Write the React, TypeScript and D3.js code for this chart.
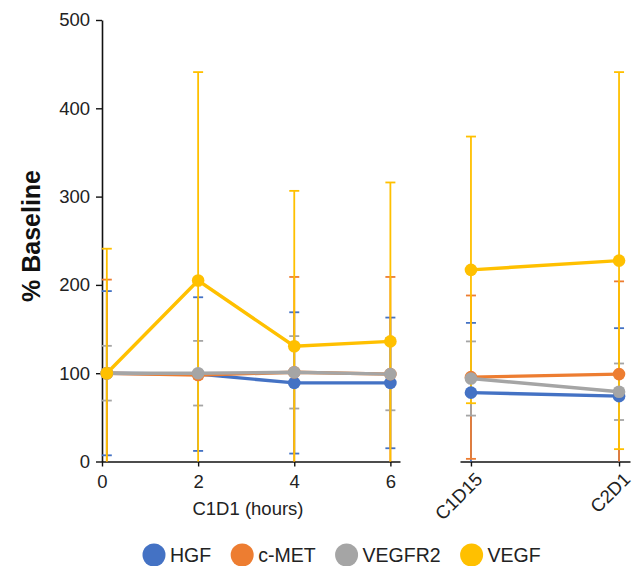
import React, { useEffect, useRef } from "react";
import * as d3 from "d3";

// left panel: hours after C1D1 dose (first point sits just right of 0)
const hours = [0.1, 2, 4, 6];
const hourTicks = [0, 2, 4, 6];
// right panel: later visits
const visits = ["C1D15", "C2D1"];
const yTicks = [0, 100, 200, 300, 400, 500];

const seriesNames = ["HGF", "c-MET", "VEGFR2", "VEGF"];
const colors = ["#4472C4", "#ED7D31", "#A5A5A5", "#FFC000"];

// means (% baseline): 4 hourly points then 2 visits
const hgfMean = [100, 99, 89, 89, 78, 74];
const hgfSd = [93, 87, 80, 74, 79, 77];
const cmetMean = [100, 98, 101, 99, 95.5, 99];
const cmetSd = [106, 4, 108, 110, 92.5, 105];
const vegfr2Mean = [100, 100, 101, 99, 94, 79];
const vegfr2Sd = [31, 36.6, 41, 41, 42, 32];
const vegfMean = [100, 205, 130.5, 136, 217, 227.5];
const vegfSd = [141, 236, 176, 180, 151, 213.5];

const means = [hgfMean, cmetMean, vegfr2Mean, vegfMean];
const sds = [hgfSd, cmetSd, vegfr2Sd, vegfSd];

const W = 638;
const H = 566;

export default function App() {
  const ref = useRef<SVGSVGElement>(null);

  useEffect(() => {
    const svg = d3.select(ref.current);
    svg.selectAll("*").remove();
    const font = "'Liberation Sans', Arial, sans-serif";

    const y = d3.scaleLinear().domain([0, 500]).range([461.5, 20]);
    const xl = d3.scaleLinear().domain([0, 6.2]).range([102, 400]);
    const xr = d3.scalePoint<string>().domain(visits).range([460, 630]).padding(0.074);

    const xAt = (i: number) => (i < 4 ? xl(hours[i]) : (xr(visits[i - 4]) as number));

    // y axis
    const ya = svg
      .append("g")
      .attr("transform", "translate(102,0)")
      .call(d3.axisLeft(y).tickValues(yTicks).tickSize(6).tickSizeOuter(0).tickPadding(6).tickFormat(d3.format("d")));
    ya.selectAll("text").attr("font-size", 18.5).attr("font-family", font).attr("fill", "#222");

    // x axes
    const xa = svg
      .append("g")
      .attr("transform", `translate(0,${y(0)})`)
      .call(
        d3.axisBottom(xl).tickValues(hourTicks).tickSize(5).tickSizeOuter(0).tickPadding(8).tickFormat(d3.format("d"))
      );
    xa.selectAll("text").attr("font-size", 18.5).attr("font-family", font).attr("fill", "#222");

    const xb = svg
      .append("g")
      .attr("transform", `translate(0,${y(0)})`)
      .call(d3.axisBottom(xr).tickSize(5).tickSizeOuter(0));
    xb.selectAll("text")
      .attr("font-size", 18.5)
      .attr("font-family", font)
      .attr("fill", "#222")
      .attr("text-anchor", "end")
      .attr("dy", 0)
      .attr("y", 0)
      .attr("transform", "translate(12,19) rotate(-45)");

    svg.selectAll(".domain").attr("stroke", "#111").attr("stroke-width", 1.6);
    svg.selectAll(".tick line").attr("stroke", "#111").attr("stroke-width", 1.4);

    // error bars
    means.forEach((m, s) => {
      const g = svg.append("g").attr("stroke", colors[s]).attr("stroke-width", 1.8);
      m.forEach((v, i) => {
        const top = y(Math.min(500, v + sds[s][i]));
        const bot = y(Math.max(0, v - sds[s][i]));
        const cx = xAt(i);
        g.append("line").attr("x1", cx).attr("x2", cx).attr("y1", top).attr("y2", bot);
        g.append("line").attr("x1", cx - 5).attr("x2", cx + 5).attr("y1", top).attr("y2", top);
        if (v - sds[s][i] > 0)
          g.append("line").attr("x1", cx - 5).attr("x2", cx + 5).attr("y1", bot).attr("y2", bot);
      });
    });

    // lines and markers (the two panels are not joined)
    means.forEach((m, s) => {
      const seg = (start: number) =>
        d3
          .line<number>()
          .x((_, i) => xAt(i + start))
          .y((d) => y(d));
      svg.append("path").attr("d", seg(0)(m.slice(0, 4))).attr("fill", "none").attr("stroke", colors[s]).attr("stroke-width", 3.4);
      svg.append("path").attr("d", seg(4)(m.slice(4))).attr("fill", "none").attr("stroke", colors[s]).attr("stroke-width", 3.4);
      svg
        .append("g")
        .selectAll("circle")
        .data(m)
        .join("circle")
        .attr("cx", (_, i) => xAt(i))
        .attr("cy", (d) => y(d))
        .attr("r", 6.3)
        .attr("fill", colors[s]);
    });

    // axis titles
    svg
      .append("text")
      .attr("transform", "translate(40,236) rotate(-90)")
      .attr("text-anchor", "middle")
      .attr("font-family", font)
      .attr("font-weight", "bold")
      .attr("font-size", 25)
      .attr("fill", "#111")
      .text("% Baseline");
    svg
      .append("text")
      .attr("x", 248)
      .attr("y", 515)
      .attr("text-anchor", "middle")
      .attr("font-family", font)
      .attr("font-size", 18.5)
      .attr("fill", "#222")
      .text("C1D1 (hours)");

    // legend
    let lx = 154;
    seriesNames.forEach((name, s) => {
      svg.append("circle").attr("cx", lx).attr("cy", 555).attr("r", 11.5).attr("fill", colors[s]);
      const t = svg
        .append("text")
        .attr("x", lx + 16)
        .attr("y", 562)
        .attr("font-family", font)
        .attr("font-size", 19.5)
        .attr("fill", "#222")
        .text(name);
      const w = (t.node() as SVGTextElement).getComputedTextLength();
      lx = lx + 16 + w + 31;
    });
  }, []);

  return (
    <svg
      ref={ref}
      width={W}
      height={H}
      style={{ position: "absolute", left: 0, top: 0, background: "#fff" }}
    />
  );
}
